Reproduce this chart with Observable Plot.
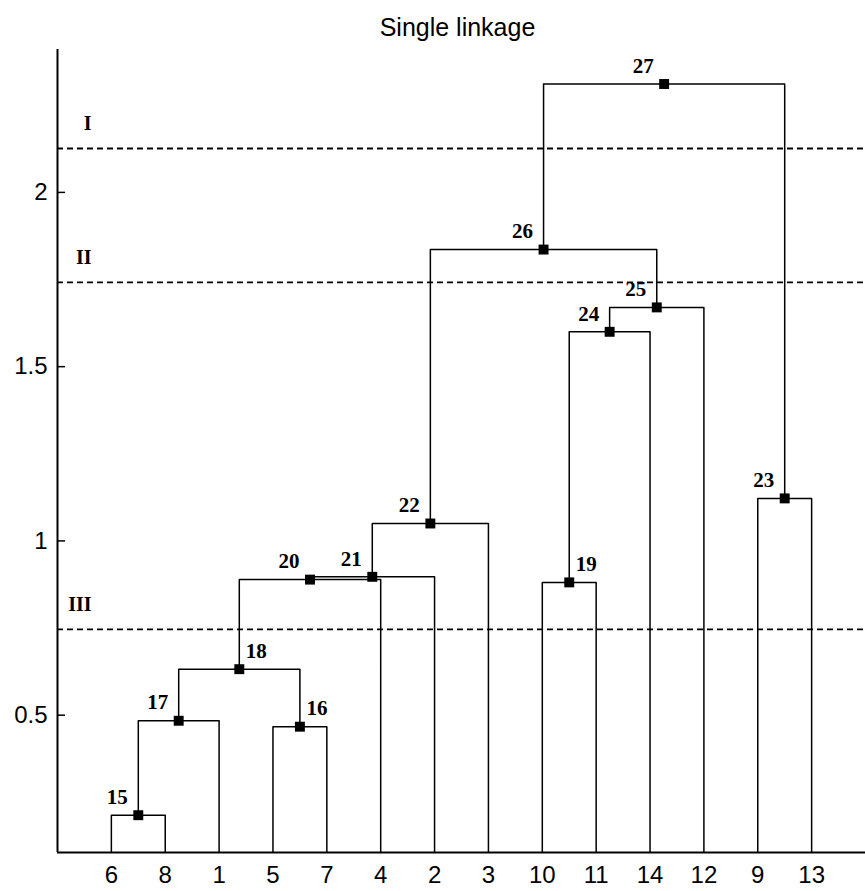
<!DOCTYPE html>
<html><head><meta charset="utf-8">
<script src="https://cdn.jsdelivr.net/npm/d3@7"></script>
<script src="https://cdn.jsdelivr.net/npm/@observablehq/plot@0.6"></script>
<style>body{margin:0;background:#fff;}</style>
</head><body><div id="chart"></div>
<script>
const title = "Single linkage";
const leafOrder = [6, 8, 1, 5, 7, 4, 2, 3, 10, 11, 14, 12, 9, 13];
const nodeIds    = [15, 16, 17, 18, 19, 20, 21, 22, 23, 24, 25, 26, 27];
const leftChild  = [6, 5, 15, 17, 10, 18, 20, 21, 9, 19, 24, 22, 26];
const rightChild = [8, 7, 1, 16, 11, 4, 2, 3, 13, 14, 12, 25, 23];
const nodeHeight = [0.213, 0.467, 0.484, 0.632, 0.881, 0.889, 0.897, 1.050, 1.122, 1.600, 1.670, 1.836, 2.311];
const cutLevels = [2.126, 1.742, 0.746];
const cutLabels = ["I", "II", "III"];
const yTicks = [0.5, 1, 1.5, 2];
const yTickLabels = ["0.5", "1", "1.5", "2"];
const yMin = 0.106, yMax = 2.41;

// derive dendrogram layout from the linkage
const pos = new Map(), hgt = new Map();
leafOrder.forEach((id, i) => { pos.set(id, i + 1); hgt.set(id, 0); });
nodeIds.forEach((id, i) => {
  pos.set(id, (pos.get(leftChild[i]) + pos.get(rightChild[i])) / 2);
  hgt.set(id, nodeHeight[i]);
});
const links = nodeIds.flatMap((id, i) => {
  const l = leftChild[i], r = rightChild[i], h = nodeHeight[i];
  return [
    {id, x: pos.get(l), y: hgt.get(l)},
    {id, x: pos.get(l), y: h},
    {id, x: pos.get(r), y: h},
    {id, x: pos.get(r), y: hgt.get(r)}
  ];
});
const nodes = nodeIds.map((id, i) => ({id, x: pos.get(id), y: nodeHeight[i]}));
const rightSide = new Set([16, 18, 19]);
const leafTicks = leafOrder.map((d, i) => i + 1);

const chart = Plot.plot({
  width: 865,
  height: 891,
  marginLeft: 57,
  marginRight: 0,
  marginTop: 49,
  marginBottom: 39,
  style: {fontFamily: "Liberation Sans, Arial, sans-serif", background: "#fff", color: "black"},
  x: {domain: [0, 15], label: null},
  y: {domain: [yMin, yMax], label: null},
  marks: [
    Plot.ruleY(cutLevels, {stroke: "black", strokeWidth: 1.8, strokeDasharray: "6,4"}),
    Plot.text(cutLevels, {frameAnchor: "left", y: d => d, text: (d, i) => cutLabels[i], textAnchor: "end", dx: 34, dy: -25,
      fontFamily: "Liberation Serif, serif", fontWeight: "bold", fontSize: 20}),
    Plot.line(links, {x: "x", y: "y", z: "id", stroke: "black", strokeWidth: 1.5, clip: true}),
    Plot.dot(nodes, {x: "x", y: "y", symbol: "square", r: 5.6, fill: "black", stroke: null}),
    Plot.text(nodes.filter(d => !rightSide.has(d.id)), {x: "x", y: "y", text: d => String(d.id), dx: -21, dy: -18,
      fontFamily: "Liberation Serif, serif", fontWeight: "bold", fontSize: 21}),
    Plot.text(nodes.filter(d => rightSide.has(d.id)), {x: "x", y: "y", text: d => String(d.id), dx: 17, dy: -18,
      fontFamily: "Liberation Serif, serif", fontWeight: "bold", fontSize: 21}),
    Plot.ruleX([0], {stroke: "black", strokeWidth: 2}),
    Plot.ruleY([yMin], {stroke: "black", strokeWidth: 2}),
    Plot.ruleY(yTicks, {x1: 0, x2: 0.15, stroke: "black", strokeWidth: 1.5}),
    Plot.axisY(yTicks, {label: null, tickSize: 0, tickPadding: 10, fontSize: 24, tickFormat: d => yTickLabels[yTicks.indexOf(d)]}),
    Plot.axisX(leafTicks, {label: null, tickSize: 0, tickPadding: 13, fontSize: 24, tickFormat: d => String(leafOrder[d - 1])}),
    Plot.text([title], {frameAnchor: "top", dy: -31, dx: -4, fontSize: 25})
  ]
});
document.getElementById("chart").appendChild(chart);
</script>
</body></html>
